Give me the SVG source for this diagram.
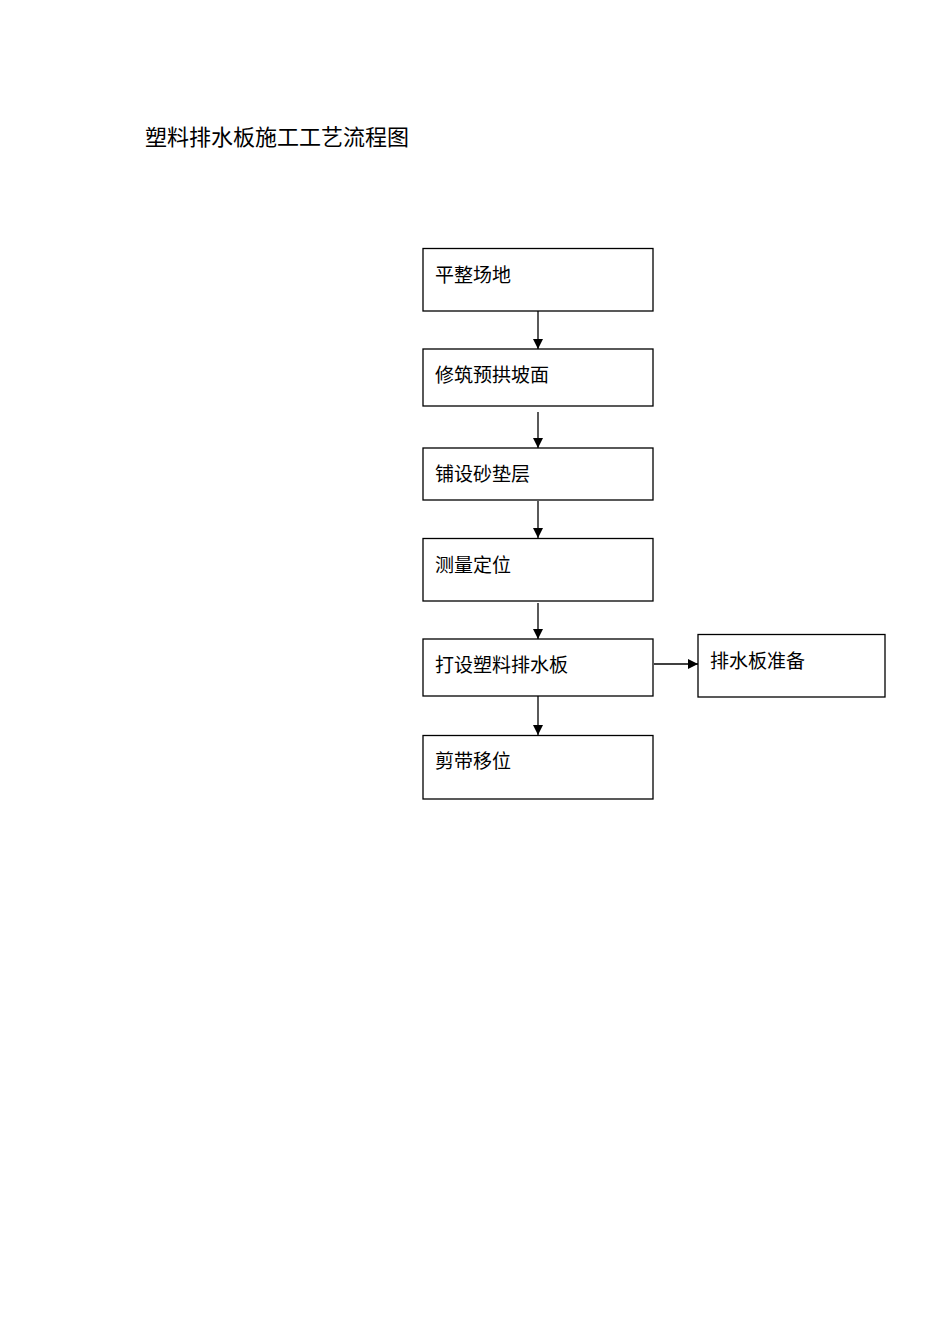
<svg xmlns="http://www.w3.org/2000/svg" width="950" height="1344" viewBox="0 0 950 1344">
<defs>
<marker id="arr" markerWidth="10" markerHeight="10" refX="10" refY="5" orient="auto" markerUnits="userSpaceOnUse">
<path d="M0,0 L10,5 L0,10 Z" fill="#000"/>
</marker>
<style>
.box{fill:#fff;stroke:#000;stroke-width:1.3}
.lbl{font-family:"Noto Sans CJK SC","Noto Sans",sans-serif;font-size:19px;fill:#000}
.title{font-family:"Noto Sans CJK SC","Noto Sans",sans-serif;font-size:22px;fill:#000}
.con{stroke:#000;stroke-width:1.3;fill:none;marker-end:url(#arr)}
</style>
</defs>
<rect width="950" height="1344" fill="#fff"/>
<text class="title" x="145" y="145">塑料排水板施工工艺流程图</text>
<g id="n1"><rect class="box" x="423" y="248.5" width="230" height="62.5"/><text class="lbl" x="435" y="282">平整场地</text></g>
<g id="n2"><rect class="box" x="423" y="349" width="230" height="57"/><text class="lbl" x="435" y="382">修筑预拱坡面</text></g>
<g id="n3"><rect class="box" x="423" y="448" width="230" height="52"/><text class="lbl" x="435" y="481">铺设砂垫层</text></g>
<g id="n4"><rect class="box" x="423" y="538.5" width="230" height="62.5"/><text class="lbl" x="435" y="572">测量定位</text></g>
<g id="n5"><rect class="box" x="423" y="639" width="230" height="57"/><text class="lbl" x="435" y="672">打设塑料排水板</text></g>
<g id="n6"><rect class="box" x="423" y="735.5" width="230" height="63.5"/><text class="lbl" x="435" y="768">剪带移位</text></g>
<g id="n7"><rect class="box" x="698" y="634.5" width="187" height="62.5"/><text class="lbl" x="710" y="668">排水板准备</text></g>
<g id="connectors">
<line class="con" x1="538" y1="311" x2="538" y2="349"/>
<line class="con" x1="538" y1="412" x2="538" y2="448"/>
<line class="con" x1="538" y1="501" x2="538" y2="538"/>
<line class="con" x1="538" y1="603" x2="538" y2="639"/>
<line class="con" x1="538" y1="696" x2="538" y2="735"/>
<line class="con" x1="654" y1="664" x2="698" y2="664"/>
</g>
</svg>
